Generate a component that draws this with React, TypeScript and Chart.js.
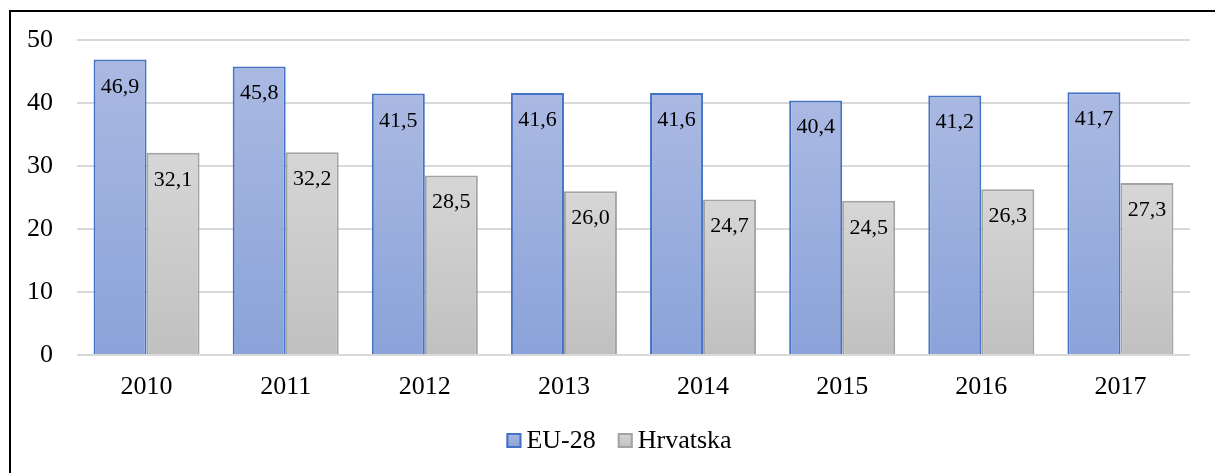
import React, { useEffect, useRef } from "react";
import { Chart, registerables } from "chart.js";

Chart.register(...registerables);

const categories = ["2010", "2011", "2012", "2013", "2014", "2015", "2016", "2017"];
const eu28 = [46.9, 45.8, 41.5, 41.6, 41.6, 40.4, 41.2, 41.7];
const hrvatska = [32.1, 32.2, 28.5, 26.0, 24.7, 24.5, 26.3, 27.3];
const seriesNames = ["EU-28", "Hrvatska"];
const yMin = 0;
const yMax = 50;
const yStep = 10;

const FONT = '"Liberation Serif", "Times New Roman", serif';

const BLUE_TOP = "#aab9e2";
const BLUE_BOTTOM = "#8ba3d9";
const BLUE_BORDER = "#4472c4";
const GRAY_TOP = "#d6d6d6";
const GRAY_BOTTOM = "#c0c0c0";
const GRAY_BORDER = "#a3a3a3";

function barGradient(top: string, bottom: string) {
  return (c: any) => {
    const chart = c.chart;
    const { ctx, chartArea, scales } = chart;
    if (!chartArea || c.type !== "data") return bottom;
    const v = c.raw as number;
    const y0 = scales.y.getPixelForValue(0);
    const y1 = scales.y.getPixelForValue(v);
    if (!isFinite(y0) || !isFinite(y1) || y0 === y1) return bottom;
    const g = ctx.createLinearGradient(0, y1, 0, y0);
    g.addColorStop(0, top);
    g.addColorStop(1, bottom);
    return g;
  };
}

const fmt = (v: number) => v.toFixed(1).replace(".", ",");

const valueLabels = {
  id: "valueLabels",
  afterDatasetsDraw(chart: any) {
    const ctx = chart.ctx;
    ctx.save();
    ctx.font = `22px ${FONT}`;
    ctx.fillStyle = "#000";
    ctx.textAlign = "center";
    ctx.textBaseline = "alphabetic";
    chart.data.datasets.forEach((ds: any, di: number) => {
      const meta = chart.getDatasetMeta(di);
      meta.data.forEach((bar: any, i: number) => {
        ctx.fillText(fmt(ds.data[i]), bar.x, bar.y + 33);
      });
    });
    ctx.restore();
  },
};

const frameAndLegend = {
  id: "frameAndLegend",
  afterDraw(chart: any) {
    const ctx = chart.ctx;
    ctx.save();
    // frame (only top and left edges fall inside the picture)
    ctx.strokeStyle = "#000";
    ctx.lineWidth = 2;
    ctx.beginPath();
    ctx.moveTo(10, 474);
    ctx.lineTo(10, 11);
    ctx.lineTo(1216, 11);
    ctx.stroke();

    // legend
    ctx.font = `26px ${FONT}`;
    const box = 15;
    const textGap = 5;
    const itemGap = 22;
    const items = chart.data.datasets.map((ds: any) => ({
      label: ds.label,
      w: ctx.measureText(ds.label).width,
      top: ds.legendTop,
      bottom: ds.legendBottom,
      border: ds.borderColor,
    }));
    const total =
      items.reduce((s: number, it: any) => s + box + textGap + it.w, 0) + itemGap * (items.length - 1);
    let x = 619 - total / 2;
    const baseline = 448;
    items.forEach((it: any) => {
      const g = ctx.createLinearGradient(0, baseline - box, 0, baseline);
      g.addColorStop(0, it.top);
      g.addColorStop(1, it.bottom);
      ctx.fillStyle = g;
      ctx.fillRect(x, baseline - box, box, box);
      ctx.strokeStyle = it.border;
      ctx.lineWidth = 2;
      ctx.strokeRect(x + 1, baseline - box + 1, box - 2, box - 2);
      ctx.fillStyle = "#000";
      ctx.textAlign = "left";
      ctx.textBaseline = "alphabetic";
      ctx.fillText(it.label, x + box + textGap, baseline);
      x += box + textGap + it.w + itemGap;
    });
    ctx.restore();
  },
};

export default function App() {
  const ref = useRef<HTMLCanvasElement>(null);

  useEffect(() => {
    if (!ref.current) return;
    const chart = new Chart(ref.current, {
      type: "bar",
      data: {
        labels: categories,
        datasets: [
          {
            label: seriesNames[0],
            data: eu28,
            backgroundColor: barGradient(BLUE_TOP, BLUE_BOTTOM),
            borderColor: BLUE_BORDER,
            borderWidth: 2,
            categoryPercentage: 0.762,
            barPercentage: 1,
            legendTop: BLUE_TOP,
            legendBottom: BLUE_BOTTOM,
          } as any,
          {
            label: seriesNames[1],
            data: hrvatska,
            backgroundColor: barGradient(GRAY_TOP, GRAY_BOTTOM),
            borderColor: GRAY_BORDER,
            borderWidth: 2,
            categoryPercentage: 0.762,
            barPercentage: 1,
            legendTop: GRAY_TOP,
            legendBottom: GRAY_BOTTOM,
          } as any,
        ],
      },
      options: {
        responsive: false,
        animation: false,
        events: [],
        layout: { padding: { top: 40, right: 25, bottom: 0, left: 0 } },
        plugins: {
          legend: { display: false },
          tooltip: { enabled: false },
        },
        scales: {
          x: {
            grid: { display: false, drawTicks: false },
            border: { display: false },
            ticks: {
              font: { family: FONT, size: 26 },
              color: "#000",
              padding: 17,
              maxRotation: 0,
            },
            afterFit: (s: any) => {
              s.height = 118;
            },
          },
          y: {
            min: yMin,
            max: yMax,
            grid: { color: "#d9d9d9", lineWidth: 2, drawTicks: false },
            border: { display: false },
            ticks: {
              stepSize: yStep,
              font: { family: FONT, size: 26 },
              color: "#000",
              padding: 24,
            },
            afterFit: (s: any) => {
              s.width = 77;
            },
          },
        },
      },
      plugins: [valueLabels, frameAndLegend],
    });
    return () => chart.destroy();
  }, []);

  return (
    <div style={{ position: "absolute", left: 0, top: 0, width: 1215, height: 473, background: "#fff" }}>
      <canvas ref={ref} width={1215} height={473} style={{ display: "block" }} />
    </div>
  );
}
